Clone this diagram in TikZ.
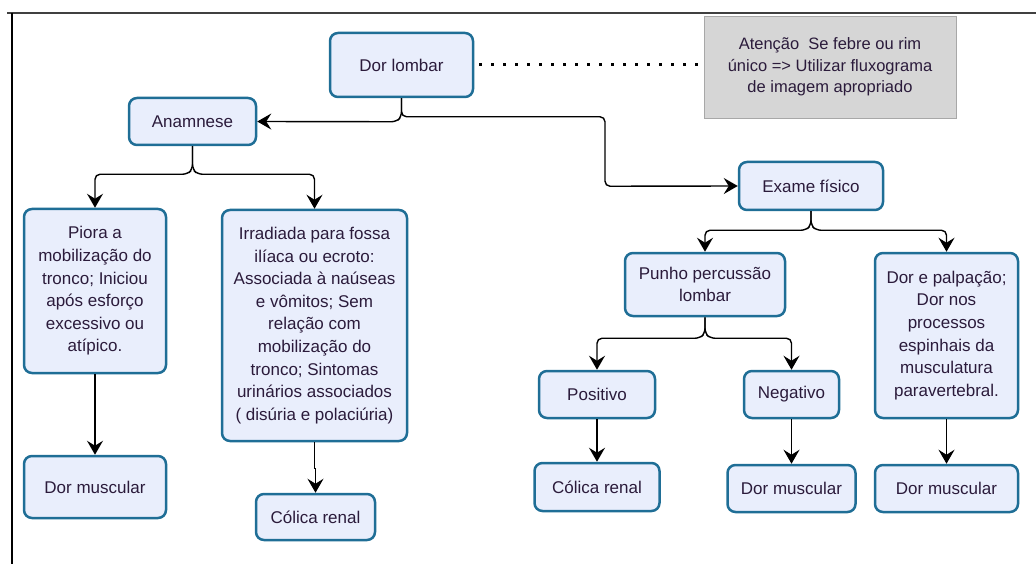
\documentclass[tikz,border=0pt]{standalone}
\usepackage{fontspec}
\setmainfont{Liberation Sans}
\usetikzlibrary{arrows.meta}

\definecolor{boxline}{HTML}{1F6E96}
\definecolor{boxfill}{HTML}{E9EEFC}
\definecolor{boxtext}{HTML}{2B1B3B}
\definecolor{notefill}{HTML}{D6D6D6}
\definecolor{noteline}{HTML}{A8A8A8}
\definecolor{framec}{HTML}{404040}

\begin{document}
\begin{tikzpicture}[x=1pt, y=-1pt, node distance=100pt]
    \tikzstyle{flowbox} = [rectangle, rounded corners=8pt, draw=boxline, fill=boxfill, line width=2.5pt, align=center, inner sep=0pt, text=boxtext, font=\fontsize{17}{22.6}\selectfont]
    \tikzstyle{notebox} = [rectangle, draw=noteline, fill=notefill, line width=0.8pt, align=center, inner sep=0pt, text=boxtext, font=\fontsize{16.5}{21.5}\selectfont]
    \tikzstyle{arrow} = [-{Stealth[length=14pt, width=16pt, inset=5pt]}, line width=1.4pt, black, rounded corners=5pt]
    \tikzstyle{dotline} = [line width=3pt, dash pattern=on 3pt off 9pt, shorten <=5pt, shorten >=6pt]

    \useasboundingbox (0,0) rectangle (1036,564);

    % Frame
    \draw [framec, line width=2pt] (7,13) -- (1036,13);
    \draw [black, line width=1.5pt] (12,13) -- (12,564);

    % Top
    \node [flowbox, minimum width=143pt, minimum height=64pt] (dl) at (401.5,65) {Dor lombar};
    \node [notebox, minimum width=252pt, minimum height=102pt, right of=dl, xshift=328.5pt, yshift=-2pt] (note) {Atenção~ Se febre ou rim\\único => Utilizar fluxograma\\de imagem apropriado};
    \node [flowbox, minimum width=127pt, minimum height=47pt, below of=dl, xshift=-209pt, yshift=43.5pt] (an) {Anamnese};
    \node [flowbox, minimum width=144pt, minimum height=48pt, below of=dl, xshift=409.5pt, yshift=-21pt] (ex) {Exame físico};

    % Anamnese branch
    \node [flowbox, minimum width=142pt, minimum height=164pt, below of=an, xshift=-97.5pt, yshift=-69.5pt] (piora) {Piora a\\mobilização do\\tronco; Iniciou\\após esforço\\excessivo ou\\atípico.};
    \node [flowbox, minimum width=185pt, minimum height=231pt, below of=an, xshift=122pt, yshift=-104pt] (irr) {Irradiada para fossa\\ilíaca ou ecroto:\\Associada à naúseas\\e vômitos; Sem\\relação com\\mobilização do\\tronco; Sintomas\\urinários associados\\( disúria e polaciúria)};
    \node [flowbox, minimum width=142pt, minimum height=62pt, below of=piora, yshift=-96pt] (dm1) {Dor muscular};
    \node [flowbox, minimum width=119pt, minimum height=46pt, below of=irr, xshift=1pt, yshift=-91.5pt] (cr1) {Cólica renal};

    % Exame fisico branch
    \node [flowbox, minimum width=160pt, minimum height=63pt, below of=ex, xshift=-106pt, yshift=1.5pt] (punho) {Punho percussão\\lombar};
    \node [flowbox, minimum width=143pt, minimum height=165pt, below of=ex, xshift=135.5pt, yshift=-49.5pt] (dp) {Dor e palpação;\\Dor nos\\processos\\espinhais da\\musculatura\\paravertebral.};
    \node [flowbox, minimum width=116pt, minimum height=47pt, below of=punho, xshift=-108pt, yshift=-10pt] (pos) {Positivo};
    \node [flowbox, minimum width=95pt, minimum height=47pt, below of=punho, xshift=86.5pt, yshift=-10pt] (neg) {Negativo};
    \node [flowbox, minimum width=125pt, minimum height=48pt, below of=pos, yshift=7.5pt] (cr2) {Cólica renal};
    \node [flowbox, minimum width=128pt, minimum height=47pt, below of=neg, yshift=6pt] (dm2) {Dor muscular};
    \node [flowbox, minimum width=143pt, minimum height=47pt, below of=dp, yshift=-53pt] (dm3) {Dor muscular};

    % Connections
    \draw [dotline] (dl.east) -- (dl.east -| note.west);
    \draw [arrow] (dl.south) -- ++(0,18.5) -- ++(-5,5) -- (an.east);
    \draw [arrow] (dl.south) -- ++(0,18.5) -- ++(203.5,0) -- ++(0,69.5) -- (ex.west);

    \draw [arrow] (an.south) -- ++(0,23) -- ++(-5,5) -| (piora.north);
    \draw [arrow] (an.south) -- ++(0,23) -- ++(5,5) -| (irr.north);
    \draw [arrow] (piora) -- (dm1);
    \draw [arrow, rounded corners=0pt] (irr.south) -- ++(0,26) -| (cr1.north);

    \draw [arrow] (ex.south) -- ++(0,14) -- ++(-5,5) -| (punho.north);
    \draw [arrow] (ex.south) -- ++(0,14) -- ++(5,5) -| (dp.north);
    \draw [arrow] (punho.south) -- ++(0,16) -- ++(-5,5) -| (pos.north);
    \draw [arrow] (punho.south) -- ++(0,16) -- ++(5,5) -| (neg.north);
    \draw [arrow] (pos) -- (cr2);
    \draw [arrow] (neg) -- (dm2);
    \draw [arrow] (dp) -- (dm3);
\end{tikzpicture}
\end{document}
